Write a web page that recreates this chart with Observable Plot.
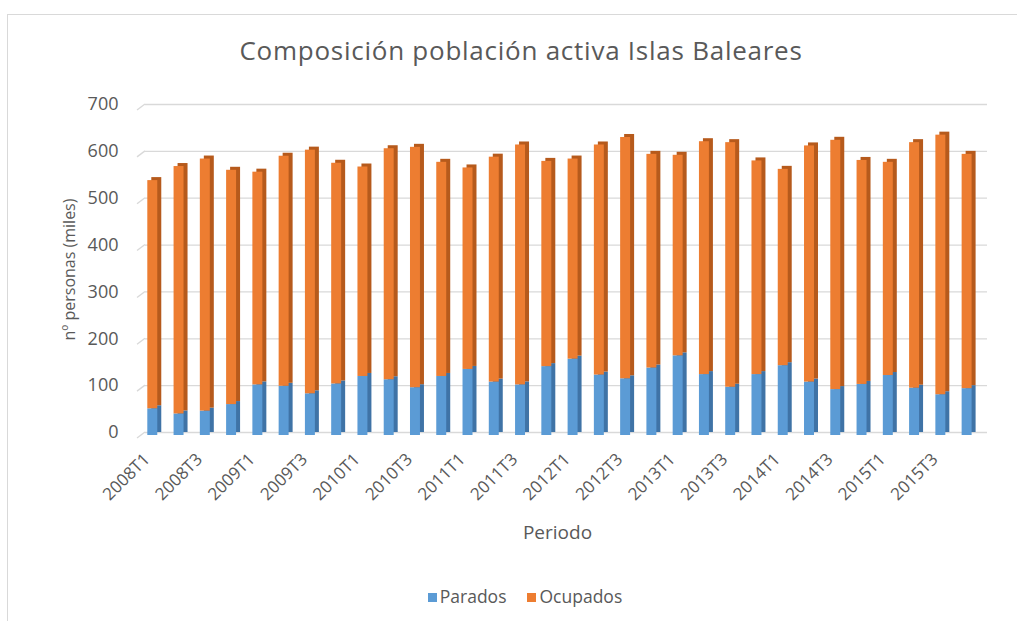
<!DOCTYPE html>
<html>
<head>
<meta charset="utf-8">
<script src="https://cdn.jsdelivr.net/npm/d3@7"></script>
<script src="https://cdn.jsdelivr.net/npm/@observablehq/plot@0.6"></script>
<style>
  html, body { margin: 0; padding: 0; background: #fff; }
  #wrap { position: relative; width: 1017px; height: 621px; overflow: hidden; font-family: "Open Sans", sans-serif; color: #595959; }
  #frame { position: absolute; left: 7px; top: 14px; width: 1100px; height: 700px; border-left: 1px solid #d9d9d9; border-top: 1px solid #d9d9d9; }
  #title { position: absolute; left: 0; width: 1042px; top: 33px; text-align: center; font-size: 26px; line-height: 34px; letter-spacing: 0.75px; }
  #chart { position: absolute; left: 0; top: 0; }
  #legend { position: absolute; left: 0; width: 1050px; top: 584px; text-align: center; font-size: 17.5px; line-height: 24px; }
  #legend span.sw { display: inline-block; width: 9px; height: 9px; margin-right: 3px; vertical-align: 1px; }
  #legend span.it { margin: 0 10.5px; }
</style>
</head>
<body>
<div id="wrap">
  <div id="frame"></div>
  <div id="chart"></div>
  <div id="title">Composición población activa Islas Baleares</div>
  <div id="legend"></div>
</div>
<script>
const periods = ["2008T1","2008T2","2008T3","2008T4","2009T1","2009T2","2009T3","2009T4",
  "2010T1","2010T2","2010T3","2010T4","2011T1","2011T2","2011T3","2011T4",
  "2012T1","2012T2","2012T3","2012T4","2013T1","2013T2","2013T3","2013T4",
  "2014T1","2014T2","2014T3","2014T4","2015T1","2015T2","2015T3","2015T4"];
const parados = [57,46,52,66,108,105,89,110,126,119,102,126,141,114,108,147,
  163,129,121,144,170,130,103,130,149,114,98,109,128,101,87,100];
const ocupados = [487,528,538,500,454,491,520,471,447,493,513,457,430,480,512,438,
  427,491,515,456,428,497,522,456,419,504,532,478,455,524,554,500];
const series = ["Parados","Ocupados"];
const xTickLabels = ["2008T1","2008T3","2009T1","2009T3","2010T1","2010T3","2011T1","2011T3",
  "2012T1","2012T3","2013T1","2013T3","2014T1","2014T3","2015T1","2015T3"];
const yTicks = [0,100,200,300,400,500,600,700];

const front = {Parados: "#5B9BD5", Ocupados: "#ED7D31"};
const side = {Parados: "#3F73A6", Ocupados: "#B65A1C"};
const textColor = "#595959";
const gridColor = "#d9d9d9";
const font = "'Open Sans', sans-serif";

const data = periods.flatMap((p, i) => [
  {periodo: p, serie: series[0], v: parados[i]},
  {periodo: p, serie: series[1], v: ocupados[i]}
]);

// small perspective slants at the left end of each gridline
function gridSlants(index, scales, values, dimensions) {
  const g = document.createElementNS("http://www.w3.org/2000/svg", "g");
  const x0 = dimensions.marginLeft;
  for (const t of yTicks) {
    const y = scales.y(t);
    const p = document.createElementNS("http://www.w3.org/2000/svg", "path");
    p.setAttribute("d", `M${x0},${y}L${x0 - 8},${y + 6}`);
    p.setAttribute("stroke", gridColor);
    p.setAttribute("stroke-width", 1.3);
    p.setAttribute("fill", "none");
    g.appendChild(p);
  }
  return g;
}

const barInsets = {insetLeft: 8, insetRight: 8.3};

const chart = Plot.plot({
  width: 1017,
  height: 621,
  marginTop: 104,
  marginBottom: 189,
  marginLeft: 145,
  marginRight: 30,
  style: {fontFamily: font, color: textColor, background: "transparent"},
  x: {domain: periods, range: [139.3, 979.9], padding: 0, round: false},
  y: {domain: [0, 700]},
  color: {type: "identity"},
  marks: [
    Plot.ruleY(yTicks, {stroke: gridColor, strokeWidth: 1.3}),
    gridSlants,
    Plot.barY(data, Plot.stackY({x: "periodo", y: "v", z: "serie", order: series, fill: d => side[d.serie], dx: 4, dy: 0, ...barInsets})),
    Plot.barY(data, Plot.stackY({x: "periodo", y: "v", z: "serie", order: series, fill: d => front[d.serie], dx: 0, dy: 3, ...barInsets})),
    Plot.axisY({ticks: yTicks, tickSize: 0, tickPadding: 27, fontSize: 18, fill: textColor, label: null, style: {letterSpacing: "1px"}}),
    Plot.axisX({ticks: xTickLabels, tickSize: 0, tickPadding: 24, dx: -6, tickRotate: -45, fontSize: 17, fill: textColor, label: null}),
    Plot.text(["Periodo"], {frameAnchor: "bottom", dy: 106, dx: -9, fontSize: 19, fill: textColor}),
    Plot.text(["nº personas (miles)"], {frameAnchor: "left", textAnchor: "middle", dx: -76, dy: 1, rotate: -90, fontSize: 16, fill: textColor})
  ]
});
document.getElementById("chart").appendChild(chart);

const legend = document.getElementById("legend");
legend.innerHTML = series.map(s => `<span class="it"><span class="sw" style="background:${front[s]}"></span>${s}</span>`).join("");
</script>
</body>
</html>
